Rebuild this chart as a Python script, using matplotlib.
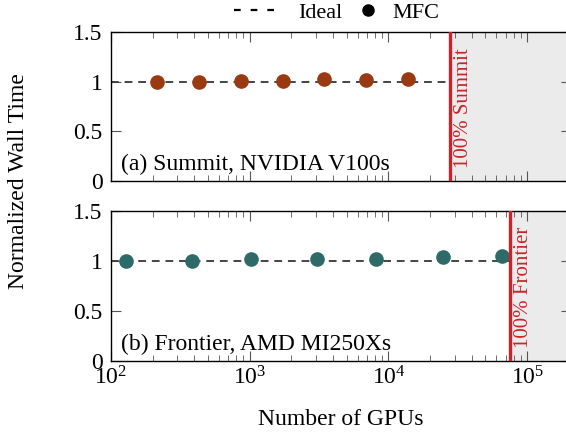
import matplotlib
matplotlib.use("Agg")
import matplotlib.pyplot as plt
from matplotlib.lines import Line2D
from matplotlib.ticker import FixedLocator, FixedFormatter, LogLocator, NullFormatter

plt.rcParams['font.family'] = ['Liberation Serif', 'DejaVu Serif']
plt.rcParams['mathtext.fontset'] = 'stix'
plt.rcParams['font.size'] = 17

summit_gpus = [216, 432, 864, 1728, 3456, 6912, 13824]
summit_time = [1.0, 1.0, 1.01, 1.01, 1.025, 1.02, 1.03]
summit_full = 27648

frontier_gpus = [128, 384, 1024, 3072, 8192, 24576, 65536]
frontier_time = [1.0, 1.0, 1.017, 1.017, 1.017, 1.037, 1.05]
frontier_full = 75264

panels = [
    (summit_gpus, summit_time, summit_full, '#9a3a12', '(a) Summit, NVIDIA V100s', '100% Summit'),
    (frontier_gpus, frontier_time, frontier_full, '#2e6b68', '(b) Frontier, AMD MI250Xs', '100% Frontier'),
]

fig = plt.figure(figsize=(5.66, 4.34), dpi=100)
ax_top = fig.add_axes([0.196, 0.583, 0.812, 0.343])
ax_bot = fig.add_axes([0.196, 0.168, 0.812, 0.346])
xmin, xmax = 100, 2.05e5

for ax, (gpus, times, full, color, label, vlabel) in zip([ax_top, ax_bot], panels):
    ax.set_xscale('log')
    ax.set_xlim(xmin, xmax)
    ax.set_ylim(0, 1.5)
    ax.axvspan(full, xmax, color='#ebebeb', zorder=0, lw=0)
    ax.plot([xmin, full], [1, 1], ls=(0, (4, 3)), color='#444444', lw=1.4, zorder=2)
    ax.plot(gpus, times, 'o', color=color, ms=9.5, zorder=3)
    ax.axvline(full, color='#cc2229', lw=2.4, zorder=4)
    ax.text(full * 1.07, 0.13, vlabel, rotation=90, color='#cc2229',
            ha='left', va='bottom', fontsize=15)
    ax.text(0.022, 0.04, label, transform=ax.transAxes, ha='left', va='bottom', fontsize=17)
    ax.yaxis.set_major_locator(FixedLocator([0, 0.5, 1, 1.5]))
    ax.yaxis.set_major_formatter(FixedFormatter(['0', '0.5', '1', '1.5']))
    ax.xaxis.set_major_locator(LogLocator(base=10))
    ax.xaxis.set_minor_locator(LogLocator(base=10, subs=range(2, 10)))
    ax.xaxis.set_minor_formatter(NullFormatter())
    ax.tick_params(which='both', direction='in', top=True, right=True, color='#555555')
    ax.tick_params(which='major', length=7, labelsize=17)
    ax.tick_params(which='minor', length=4.3)
    ax.tick_params(axis='y', pad=6)
    for s in ax.spines.values():
        s.set_linewidth(1.0)

ax_top.tick_params(axis='x', labelbottom=False)
ax_bot.set_xlabel('Number of GPUs', fontsize=17, labelpad=14)
fig.text(0.032, 0.583, 'Normalized Wall Time', rotation=90, ha='center', va='center', fontsize=17)

# two separate legend pieces so the dot handle sits close to its label
ideal_handle = Line2D([], [], ls=(0, (3, 4.5)), color='black', lw=1.6)
mfc_handle = Line2D([], [], ls='none', marker='o', color='black', ms=8)
fig.legend([ideal_handle], ['Ideal'], loc='center left', bbox_to_anchor=(0.413, 0.971),
           frameon=False, fontsize=16, handlelength=1.8, handletextpad=1.1,
           borderpad=0, borderaxespad=0)
fig.legend([mfc_handle], ['MFC'], loc='center left', bbox_to_anchor=(0.639, 0.971),
           frameon=False, fontsize=16, handlelength=0.6, handletextpad=0.8,
           borderpad=0, borderaxespad=0)

fig.savefig('out.png', dpi=100)
